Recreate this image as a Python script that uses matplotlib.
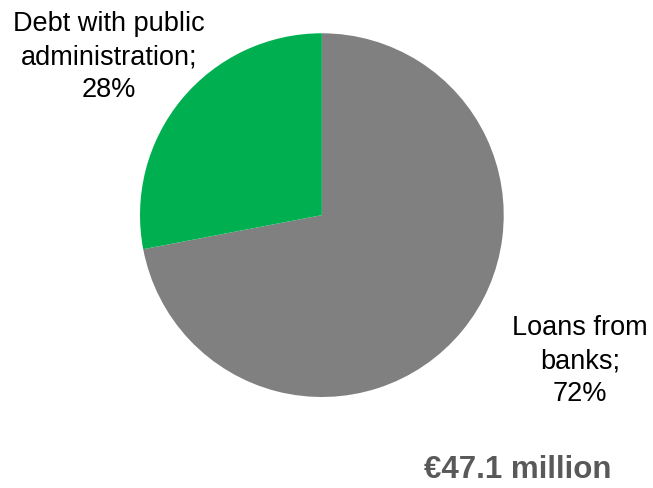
import matplotlib.pyplot as plt

plt.rcParams['font.family'] = ['Liberation Sans', 'DejaVu Sans']

labels = ['Loans from\nbanks;\n72%', 'Debt with public\nadministration;\n28%']
shares = [72, 28]
colors = ['#808080', '#00B050']
total_text = '€47.1 million'

fig = plt.figure(figsize=(6.53, 4.89), dpi=100)
ax = fig.add_axes([0.2144, 0.186, 0.557, 0.744])
ax.pie(shares, colors=colors, startangle=90, counterclock=False,
       wedgeprops={'linewidth': 0})
ax.set_xlim(-1, 1)
ax.set_ylim(-1, 1)
ax.set_aspect('equal')

# slice labels, placed outside the pie like the original
fig.text(580 / 653, 1 - 361 / 489, labels[0], ha='center', va='center',
         fontsize=19.5, linespacing=1.36)
fig.text(109 / 653, 1 - 57 / 489, labels[1], ha='center', va='center',
         fontsize=19.5, linespacing=1.36)
fig.text(518 / 653, 1 - 470 / 489, total_text, ha='center', va='center',
         fontsize=22.5, fontweight='bold', color='#595959')

fig.savefig('out.png', dpi=100)
